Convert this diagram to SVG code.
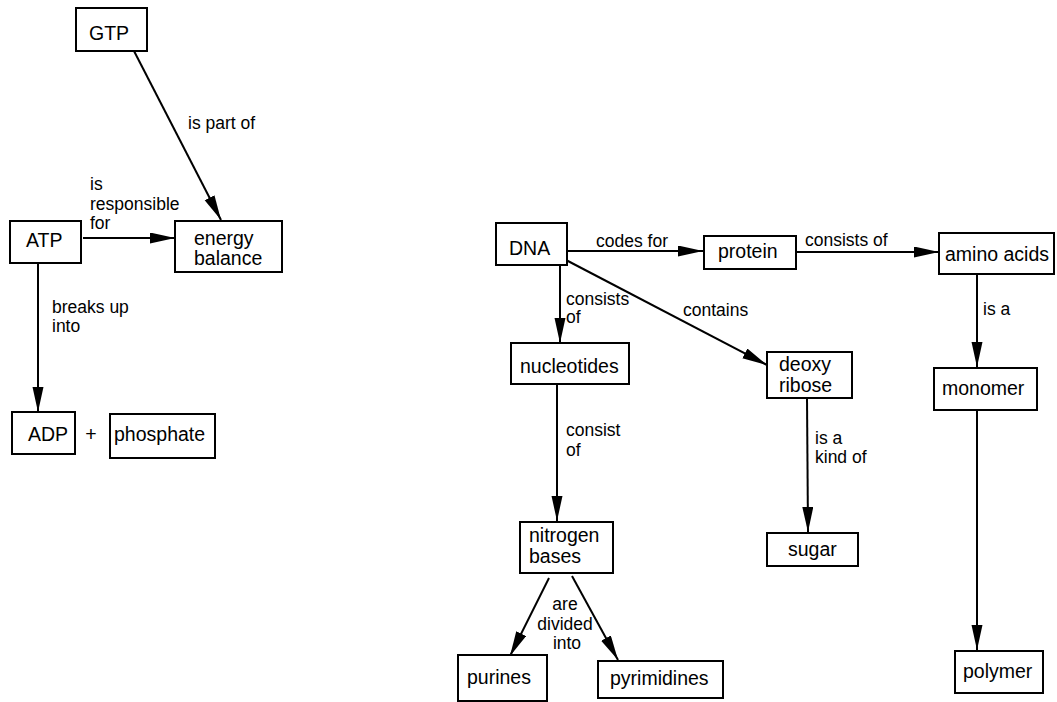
<svg xmlns="http://www.w3.org/2000/svg" width="1057" height="702" viewBox="0 0 1057 702">
<style>
.box{fill:#fff;stroke:#000;stroke-width:2}
.nt{font-family:"Liberation Sans",Arial,sans-serif;font-size:19.5px;fill:#000}
.lb{font-family:"Liberation Sans",Arial,sans-serif;font-size:17.5px;fill:#000}
.cn{stroke:#000;stroke-width:2;fill:none;marker-end:url(#ah)}
</style>
<defs>
<marker id="ah" markerUnits="userSpaceOnUse" markerWidth="26" markerHeight="12" refX="25" refY="5.5" orient="auto">
<path d="M0,0 L25,5.5 L0,11 Z" fill="#000"/>
</marker>
</defs>
<rect width="1057" height="702" fill="#fff"/>
<g id="connectors">
<line class="cn" x1="134" y1="51" x2="221" y2="220"/>
<line class="cn" x1="83" y1="238" x2="175" y2="238"/>
<line class="cn" x1="38" y1="263" x2="38" y2="412"/>
<line class="cn" x1="567" y1="251" x2="703" y2="251"/>
<line class="cn" x1="796" y1="252" x2="939" y2="252"/>
<line class="cn" x1="977" y1="274" x2="977" y2="367"/>
<line class="cn" x1="977" y1="410" x2="977" y2="650"/>
<line class="cn" x1="560" y1="265" x2="560" y2="343"/>
<line class="cn" x1="566" y1="260" x2="767" y2="365"/>
<line class="cn" x1="807" y1="398" x2="808" y2="532"/>
<line class="cn" x1="557" y1="384" x2="557" y2="521"/>
<line class="cn" x1="549" y1="578" x2="510" y2="656"/>
<line class="cn" x1="572" y1="576" x2="618" y2="660"/>
<text class="lb" x="188" y="129">is part of</text>
<text class="lb" x="90" y="190">is</text>
<text class="lb" x="90" y="210">responsible</text>
<text class="lb" x="90" y="229">for</text>
<text class="lb" x="52" y="313">breaks up</text>
<text class="lb" x="52" y="332">into</text>
<text class="lb" x="596" y="247">codes for</text>
<text class="lb" x="805" y="246">consists of</text>
<text class="lb" x="983" y="315">is a</text>
<text class="lb" x="566" y="305">consists</text>
<text class="lb" x="566" y="323">of</text>
<text class="lb" x="683" y="316">contains</text>
<text class="lb" x="815" y="444">is a</text>
<text class="lb" x="815" y="463">kind of</text>
<text class="lb" x="566" y="436">consist</text>
<text class="lb" x="566" y="456">of</text>
<text class="lb" x="565" y="610" text-anchor="middle">are</text>
<text class="lb" x="565" y="630" text-anchor="middle">divided</text>
<text class="lb" x="567" y="649" text-anchor="middle">into</text>
<text class="nt" x="91" y="441" text-anchor="middle">+</text>
</g>
<g id="GTP"><rect class="box" x="76" y="8" width="71" height="43"/><text class="nt" x="89" y="40">GTP</text></g>
<g id="ATP"><rect class="box" x="10" y="221" width="71" height="42"/><text class="nt" x="26" y="247">ATP</text></g>
<g id="energy-balance"><rect class="box" x="175" y="221" width="107" height="51"/><text class="nt" x="194" y="245">energy</text><text class="nt" x="194" y="265">balance</text></g>
<g id="ADP"><rect class="box" x="12" y="412" width="63" height="42"/><text class="nt" x="28" y="441">ADP</text></g>
<g id="phosphate"><rect class="box" x="110" y="414" width="105" height="44"/><text class="nt" x="114" y="441">phosphate</text></g>
<g id="DNA"><rect class="box" x="496" y="223" width="71" height="42"/><text class="nt" x="509" y="255">DNA</text></g>
<g id="protein"><rect class="box" x="704" y="236" width="92" height="33"/><text class="nt" x="718" y="258">protein</text></g>
<g id="amino-acids"><rect class="box" x="939" y="233" width="115" height="41"/><text class="nt" x="945" y="261">amino acids</text></g>
<g id="nucleotides"><rect class="box" x="511" y="343" width="118" height="41"/><text class="nt" x="520" y="373">nucleotides</text></g>
<g id="deoxy-ribose"><rect class="box" x="767" y="352" width="85" height="46"/><text class="nt" x="779" y="371">deoxy</text><text class="nt" x="779" y="392">ribose</text></g>
<g id="monomer"><rect class="box" x="934" y="368" width="103" height="42"/><text class="nt" x="942" y="395">monomer</text></g>
<g id="polymer"><rect class="box" x="955" y="651" width="88" height="42"/><text class="nt" x="963" y="678">polymer</text></g>
<g id="sugar"><rect class="box" x="767" y="533" width="91" height="33"/><text class="nt" x="788" y="556">sugar</text></g>
<g id="nitrogen-bases"><rect class="box" x="520" y="522" width="93" height="51"/><text class="nt" x="529" y="542">nitrogen</text><text class="nt" x="529" y="563">bases</text></g>
<g id="purines"><rect class="box" x="458" y="655" width="89" height="46"/><text class="nt" x="467" y="684">purines</text></g>
<g id="pyrimidines"><rect class="box" x="598" y="661" width="125" height="37"/><text class="nt" x="610" y="685">pyrimidines</text></g>
</svg>
